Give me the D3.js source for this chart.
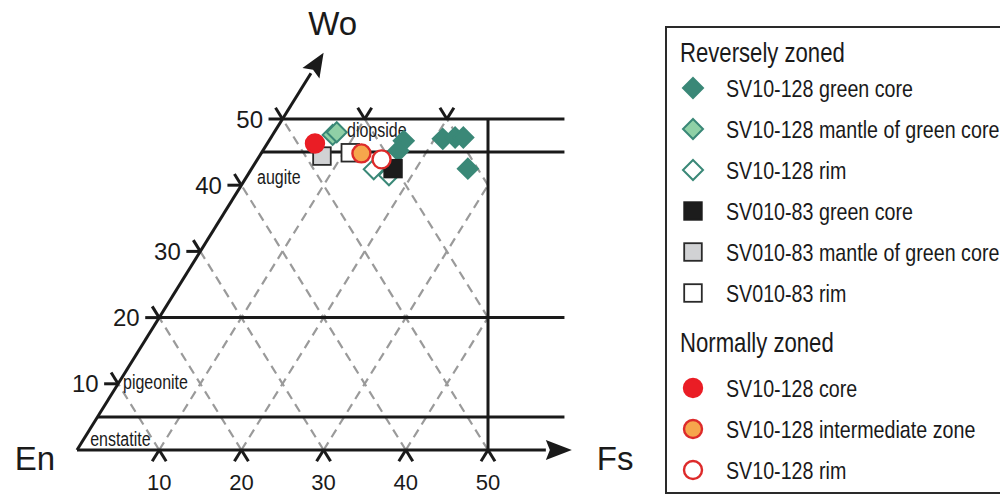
<!DOCTYPE html>
<html>
<head>
<meta charset="utf-8">
<script src="https://cdn.jsdelivr.net/npm/d3@7/dist/d3.min.js"></script>
<style>
  html, body { margin: 0; padding: 0; background: #fff; }
  svg { display: block; }
  text { font-family: "Liberation Sans", Arial, Helvetica, sans-serif; }
</style>
</head>
<body>
<svg id="chart" width="1000" height="496"></svg>
<script>
// Pyroxene compositions as [Wo, Fs] (mol %), En = 100 - Wo - Fs
const sv128GreenCore = [[46.7, 16.4], [45.2, 16.5], [47.0, 21.0], [47.2, 22.4], [47.2, 23.4], [42.5, 26.3]];
const sv128Mantle    = [[47.6, 7.3], [48.0, 7.6]];
const sv128Rim       = [[41.5, 17.2], [42.4, 14.9]];
const sv83GreenCore  = [[42.5, 17.2]];
const sv83Mantle     = [[44.4, 7.6]];
const sv83Rim        = [[44.9, 10.8]];
const nzCore         = [[46.3, 5.8]];
const nzIntermediate = [[44.8, 12.2]];
const nzRim          = [[43.9, 15.1]];

// Axis ticks
const bottomTicks = [10, 20, 30, 40, 50];      // Fs along the En–Fs join
const leftTicks   = [10, 20, 30, 40, 50];      // Wo along the En–Wo join
const topTicks    = [10, 20];                  // Fs along the Wo = 50 line
// Field boundaries (constant Wo)
const boundaryWo  = [5, 20, 45, 50];
// Grid values for dashed lines
const gridFs = [10, 20, 30, 40];
const gridEnComplement = [10, 20, 30, 40, 50, 60, 70];   // 100 - En

const fieldNames = [
  { name: "diopside",  wo: 47.3, fs: 9.2 },
  { name: "augite",    wo: 40.2, fs: 1.8 },
  { name: "pigeonite", wo: 9.2,  fs: 1.0 },
  { name: "enstatite", wo: 0.6,  fs: 1.3 }
];

const legendGroups = [
  { title: "Reversely zoned", items: [
    { label: "SV10-128 green core",            data: sv128GreenCore, shape: "diamond", fill: "#3a8877", stroke: "#3a8877" },
    { label: "SV10-128 mantle of green core",  data: sv128Mantle,    shape: "diamond", fill: "#8fd0a6", stroke: "#3a8877" },
    { label: "SV10-128 rim",                   data: sv128Rim,       shape: "diamond", fill: "#ffffff", stroke: "#3a8877" },
    { label: "SV010-83 green core",            data: sv83GreenCore,  shape: "square",  fill: "#1c1c1c", stroke: "#1c1c1c" },
    { label: "SV010-83 mantle of green core",  data: sv83Mantle,     shape: "square",  fill: "#d1d2d4", stroke: "#2a2a2a" },
    { label: "SV010-83 rim",                   data: sv83Rim,        shape: "square",  fill: "#ffffff", stroke: "#2a2a2a" }
  ]},
  { title: "Normally zoned", items: [
    { label: "SV10-128 core",               data: nzCore,         shape: "circle", fill: "#ea1d25", stroke: "#ea1d25" },
    { label: "SV10-128 intermediate zone",  data: nzIntermediate, shape: "circle", fill: "#f6a64c", stroke: "#dd2a2a" },
    { label: "SV10-128 rim",                data: nzRim,          shape: "circle", fill: "#ffffff", stroke: "#dd2a2a" }
  ]}
];

const svg = d3.select("#chart");
const ink = "#1a1a1a";
const narrow = 0.82;   // horizontal condensing for the narrow captions

// Horizontal position from Fs + Wo/2, vertical from Wo
const hx = d3.scaleLinear().domain([0, 50]).range([77, 488]);
const vy = d3.scaleLinear().domain([0, 50]).range([450, 119]);
const P = (wo, fs) => [hx(fs + wo / 2), vy(wo)];
const seg = (a, b) => `M${P(a[0], a[1])}L${P(b[0], b[1])}`;

// Condensed caption helper
function caption(parent, x, y, size, str) {
  return parent.append("text")
    .attr("transform", `translate(${x},${y}) scale(${narrow},1)`)
    .attr("font-size", size).attr("fill", ink).text(str);
}

const g = svg.append("g");

// Dashed composition grid
const dashed = [];
gridFs.forEach(f => dashed.push([[0, f], [Math.min(50, 2 * (50 - f)), f]]));
gridEnComplement.forEach(c => {
  const w0 = Math.max(0, 2 * (c - 50));
  if (w0 < 50) dashed.push([[w0, c - w0], [Math.min(50, c), c - Math.min(50, c)]]);
});
g.selectAll("path.grid").data(dashed).join("path")
  .attr("class", "grid")
  .attr("d", d => seg(d[0], d[1]))
  .attr("stroke", "#9a9a9a").attr("stroke-width", 2.2)
  .attr("stroke-dasharray", "9,6").attr("fill", "none");

// Solid boundaries
const lineRight = 59.3;   // right end of the field boundaries (Fs + Wo/2)
const solid = g.append("g").attr("stroke", ink).attr("stroke-width", 3).attr("fill", "none");
boundaryWo.forEach(w => {
  solid.append("path").attr("d", `M${P(w, 0)}L${hx(lineRight)},${vy(w)}`);
});
solid.append("path").attr("d", `M${hx(50)},${vy(0)}L${hx(50)},${vy(50)}`);

// Ticks
const t = 1.7;
const tickPaths = [];
bottomTicks.forEach(f => {
  tickPaths.push(seg([0, f], [-t, f]));
  tickPaths.push(seg([0, f], [-t, f + t]));
});
leftTicks.forEach(w => {
  tickPaths.push(seg([w, 0], [w, -t]));
  tickPaths.push(seg([w, 0], [w + t, -t]));
});
topTicks.forEach(f => {
  tickPaths.push(seg([50, f], [50 + t, f]));
  tickPaths.push(seg([50, f], [50 + t, f - t]));
});
g.selectAll("path.tick").data(tickPaths).join("path")
  .attr("class", "tick").attr("d", d => d)
  .attr("stroke", ink).attr("stroke-width", 3).attr("fill", "none");

// Axes with arrows
const woTip = P(60, 0), enPt = P(0, 0);
const fsTip = [hx(60.2), vy(0)];
function arrow(from, to, len, half) {
  const dx = to[0] - from[0], dy = to[1] - from[1];
  const L = Math.hypot(dx, dy), ux = dx / L, uy = dy / L;
  const bx = to[0] - ux * len, by = to[1] - uy * len;
  g.append("path").attr("d", `M${from}L${bx},${by}`)
    .attr("stroke", ink).attr("stroke-width", 3).attr("fill", "none");
  g.append("path")
    .attr("d", `M${to}L${bx - uy * half},${by + ux * half}L${bx + ux * 4},${by + uy * 4}L${bx + uy * half},${by - ux * half}Z`)
    .attr("fill", ink);
}
arrow(enPt, woTip, 24, 10);
arrow(enPt, fsTip, 26, 10);

// Tick labels
g.selectAll("text.bt").data(bottomTicks).join("text")
  .attr("class", "bt").attr("x", d => P(0, d)[0]).attr("y", 490)
  .attr("text-anchor", "middle").attr("font-size", 22).attr("fill", ink).text(d => d);
g.selectAll("text.lt").data(leftTicks).join("text")
  .attr("class", "lt").attr("x", d => P(d, 0)[0] - 19.5).attr("y", d => P(d, 0)[1] + 8.5)
  .attr("text-anchor", "end").attr("font-size", 24).attr("fill", ink).text(d => d);

// End-member labels
g.append("text").attr("x", enPt[0] - 22).attr("y", enPt[1] + 20)
  .attr("text-anchor", "end").attr("font-size", 33).attr("fill", ink).text("En");
g.append("text").attr("x", fsTip[0] + 25).attr("y", fsTip[1] + 20)
  .attr("font-size", 33).attr("fill", ink).text("Fs");
g.append("text").attr("x", woTip[0] + 9).attr("y", woTip[1] - 18)
  .attr("text-anchor", "middle").attr("font-size", 33).attr("fill", ink).text("Wo");

// Field names
fieldNames.forEach(d => {
  const [px, py] = P(d.wo, d.fs);
  caption(g, px, py, 19.5, d.name);
});

// Marker drawing
function drawMarker(sel, shape, size) {
  if (shape === "diamond") {
    return sel.append("path").attr("d", `M0,${-size}L${size},0L0,${size}L${-size},0Z`);
  } else if (shape === "square") {
    const s = size * 0.88;
    return sel.append("rect").attr("x", -s).attr("y", -s).attr("width", 2 * s).attr("height", 2 * s);
  }
  return sel.append("circle").attr("r", size * 0.9);
}
const strokeW = { diamond: 2, square: 1.8, circle: 2.4 };

const marks = g.append("g");
legendGroups.forEach(grp => grp.items.forEach(it => {
  it.data.forEach(([wo, fs]) => {
    const [px, py] = P(wo, fs);
    const m = marks.append("g").attr("transform", `translate(${px},${py})`);
    drawMarker(m, it.shape, 10)
      .attr("fill", it.fill).attr("stroke", it.stroke).attr("stroke-width", strokeW[it.shape]);
  });
}));

// Legend
const lg = svg.append("g");
lg.append("rect").attr("x", 666).attr("y", 27).attr("width", 360).attr("height", 466)
  .attr("fill", "#fff").attr("stroke", "#2a2a2a").attr("stroke-width", 2);
const rowY = d3.scaleLinear().domain([0, 1]).range([0, 41]);
let row = 0;
const titleTop = 52;
legendGroups.forEach((grp, gi) => {
  const yTitle = titleTop + rowY(row) + (gi ? 3 : 0);
  caption(lg, 680, yTitle + 9.5, 27, grp.title);
  row += 1;
  grp.items.forEach(it => {
    const yy = titleTop + rowY(row) + (gi ? 8 : -5);
    const m = lg.append("g").attr("transform", `translate(693,${yy})`);
    drawMarker(m, it.shape, 10)
      .attr("fill", it.fill).attr("stroke", it.stroke).attr("stroke-width", strokeW[it.shape]);
    caption(lg, 726, yy + 8.5, 24, it.label);
    row += 1;
  });
});
</script>
</body>
</html>
